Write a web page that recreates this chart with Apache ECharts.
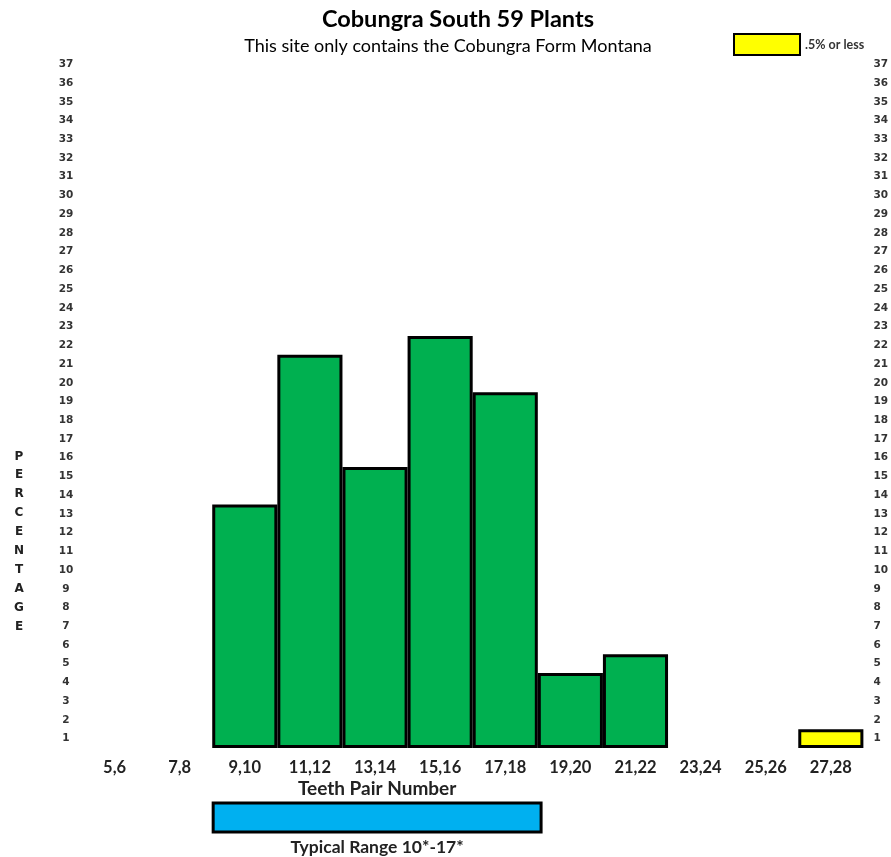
<!DOCTYPE html>
<html>
<head>
<meta charset="utf-8">
<script src="https://cdn.jsdelivr.net/npm/echarts@6/dist/echarts.min.js"></script>
<style>
html,body{margin:0;padding:0;background:#fff;}
#chart{width:891px;height:857px;}
</style>
</head>
<body>
<div id="chart"></div>
<script>
// ---- data ----
const categories = ['5,6','7,8','9,10','11,12','13,14','15,16','17,18','19,20','21,22','23,24','25,26','27,28'];
const percentValues = [null,null,13,21,15,22,19,4,5,null,null,null];
const lowValues = [null,null,null,null,null,null,null,null,null,null,null,1];
const yTickLabels = ['1','2','3','4','5','6','7','8','9','10','11','12','13','14','15','16','17','18','19','20','21','22','23','24','25','26','27','28','29','30','31','32','33','34','35','36','37'];
const typicalRange = [2, 6]; // category indices '9,10' .. '17,18'
const titleText = 'Cobungra South 59 Plants';
const subtitleText = 'This site only contains the Cobungra Form Montana';
const xAxisTitle = 'Teeth Pair Number';
const rangeText = 'Typical Range 10*-17*';
const lowLegend = '.5% or less';
const yAxisTitle = 'PERCENTAGE';

const chart = echarts.init(document.getElementById('chart'));
const labelFont = 'Lato';
const yLabelStyle = {fontFamily:'DejaVu Sans', fontWeight:'bold', fontSize:10.5, color:'#333'};

const option = {
  backgroundColor:'#fff',
  animation:false,
  title:[
    {text:titleText, left:453, top:2, textAlign:'center',
     textStyle:{fontFamily:labelFont, fontWeight:'bold', fontSize:23.5, color:'#000'}},
    {text:subtitleText, left:443, top:32, textAlign:'center',
     textStyle:{fontFamily:labelFont, fontWeight:'normal', fontSize:18, color:'#000'}}
  ],
  legend:{
    data:[lowLegend], left:733, top:33, padding:0, itemWidth:66, itemHeight:21, icon:'rect',
    itemGap:8,
    textStyle:{fontFamily:labelFont, fontWeight:'bold', fontSize:12.5, color:'#333'}
  },
  graphic:[
    {type:'text', left:14, top:447,
     style:{text:yAxisTitle.split('').join('\n'), fontFamily:'DejaVu Sans', fontWeight:'bold', fontSize:12,
            lineHeight:18.9, fill:'#222', textAlign:'center'}}
  ],
  grid:[
    {left:82, width:787, top:55, height:693},
    {left:82, width:787, top:803, height:29}
  ],
  xAxis:[
    {type:'category', gridIndex:0, data:categories,
     axisLine:{show:false}, axisTick:{show:false}, splitLine:{show:false},
     axisLabel:{margin:11, fontFamily:labelFont, fontWeight:'bold', fontSize:16.5, color:'#222', interval:0}},
    {type:'category', gridIndex:1, data:categories, show:false}
  ],
  yAxis:[
    {type:'value', gridIndex:0, min:0, max:37, show:false},
    {type:'category', gridIndex:0, data:yTickLabels, position:'left',
     axisLine:{show:false}, axisTick:{show:false}, splitLine:{show:false},
     axisLabel:Object.assign({margin:16, align:'center', interval:0}, yLabelStyle)},
    {type:'category', gridIndex:0, data:yTickLabels, position:'right',
     axisLine:{show:false}, axisTick:{show:false}, splitLine:{show:false},
     axisLabel:Object.assign({margin:10, align:'left', interval:0}, yLabelStyle)},
    {type:'value', gridIndex:1, min:0, max:1, show:false}
  ],
  series:[
    {name:'Percentage', type:'bar', xAxisIndex:0, yAxisIndex:0, data:percentValues,
     barCategoryGap:0, barGap:'-100%',
     itemStyle:{color:'#00b050', borderColor:'#000', borderWidth:3}},
    {name:lowLegend, type:'bar', xAxisIndex:0, yAxisIndex:0, data:lowValues,
     barCategoryGap:0, barGap:'-100%',
     itemStyle:{color:'#ffff00', borderColor:'#000', borderWidth:3}},
    {name:'Typical Range', type:'custom', xAxisIndex:1, yAxisIndex:3,
     data:[typicalRange],
     renderItem:function(params, api){
       const bw = api.size([1,0])[0];
       const p0 = api.coord([api.value(0), 0]);
       const p1 = api.coord([api.value(1), 1]);
       const x0 = p0[0]-bw/2, x1 = p1[0]+bw/2;
       const cx = (x0+x1)/2;
       return {type:'group', children:[
         {type:'rect', shape:{x:x0, y:p1[1], width:x1-x0, height:p0[1]-p1[1]},
          style:{fill:'#00b0f0', stroke:'#000', lineWidth:3}},
         {type:'text', x:cx, y:p1[1]-14,
          style:{text:xAxisTitle, textAlign:'center', textVerticalAlign:'middle',
                 fontFamily:labelFont, fontWeight:'bold', fontSize:19, fill:'#222'}},
         {type:'text', x:cx, y:p0[1]+15,
          style:{text:rangeText, textAlign:'center', textVerticalAlign:'middle',
                 fontFamily:labelFont, fontWeight:'bold', fontSize:17.5, fill:'#222'}}
       ]};
     }}
  ]
};
chart.setOption(option);
</script>
</body>
</html>
